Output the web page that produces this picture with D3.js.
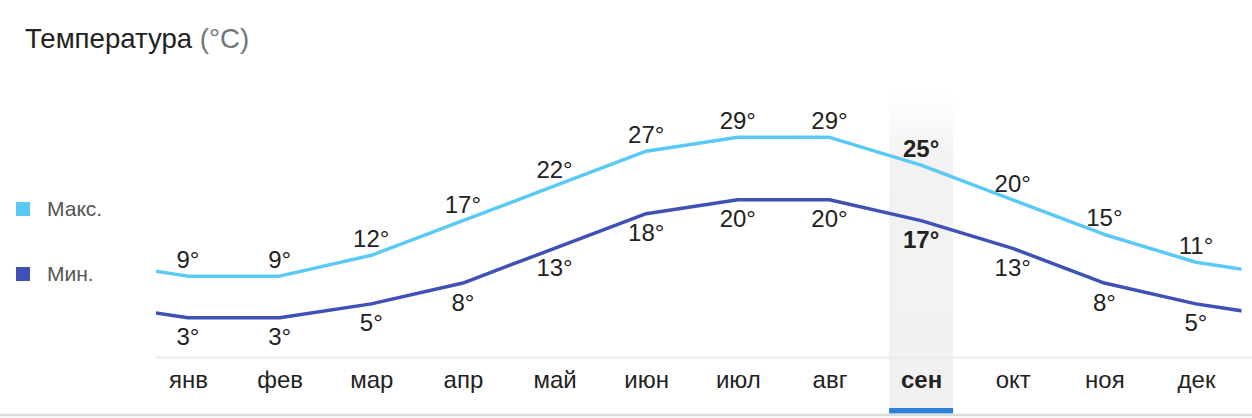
<!DOCTYPE html>
<html><head><meta charset="utf-8">
<script src="https://cdn.jsdelivr.net/npm/d3@7"></script>
<style>
html,body{margin:0;padding:0;background:#fff;}
svg{display:block;font-family:"Liberation Sans",Arial,sans-serif;}
</style></head>
<body>
<svg id="chart" width="1252" height="418"></svg>
<script>
const months = ["янв","фев","мар","апр","май","июн","июл","авг","сен","окт","ноя","дек"];
const maxTemps = [9,9,12,17,22,27,29,29,25,20,15,11];
const minTemps = [3,3,5,8,13,18,20,20,17,13,8,5];
const selectedMonth = "сен";
const seriesNames = ["Макс.","Мин."];
const title = "Температура";
const unit = "(°C)";

const W = 1252, H = 418;
const svg = d3.select("#chart");
const colors = {max:"#5bc9f6", min:"#3f51b5"};

const x = d3.scalePoint().domain(months).range([188, 1196]);
const xi = d3.scaleLinear().domain([0, 11]).range([188, 1196]);
const y = d3.scaleLinear().domain([0, 29]).range([338.6, 137.3]);
const plotLeft = 156, plotRight = 1241.5;

// defs
const defs = svg.append("defs");
defs.append("clipPath").attr("id","plotclip").append("rect")
  .attr("x", plotLeft).attr("y", 0).attr("width", plotRight - plotLeft).attr("height", H);
const g = defs.append("linearGradient").attr("id","hl").attr("x1",0).attr("x2",0).attr("y1",0).attr("y2",1);
g.append("stop").attr("offset","0%").attr("stop-color","#ffffff");
g.append("stop").attr("offset","22%").attr("stop-color","#f2f2f2");
g.append("stop").attr("offset","100%").attr("stop-color","#f1f1f1");

// title
const t = svg.append("text").attr("x", 25).attr("y", 48).attr("font-size", 27.6).attr("fill", "#222");
t.append("tspan").text(title + " ");
t.append("tspan").attr("fill", "#70757a").text(unit);

// highlight band
const selX = x(selectedMonth);
svg.append("rect").attr("x", selX - 32).attr("y", 92).attr("width", 64).attr("height", 316).attr("fill", "url(#hl)");
svg.append("rect").attr("x", selX - 32).attr("y", 408).attr("width", 64).attr("height", 5.5).attr("fill", "#2f80d9");

// baseline & bottom rule
svg.append("line").attr("x1", plotLeft).attr("x2", W).attr("y1", 357.5).attr("y2", 357.5)
  .attr("stroke", "#ebebeb").attr("stroke-width", 2);
svg.append("line").attr("x1", 0).attr("x2", W).attr("y1", 415).attr("y2", 415)
  .attr("stroke", "#dadada").attr("stroke-width", 2.5);

// lines (wrap: previous December before January, next January after December, clipped)
function wrapped(arr){
  const pts = arr.map((v,i)=>[i,v]);
  return [[-1, arr[arr.length-1]], ...pts, [arr.length, arr[0]]];
}
const line = d3.line().x(d=>xi(d[0])).y(d=>y(d[1]));
const lg = svg.append("g").attr("clip-path","url(#plotclip)");
lg.append("path").attr("d", line(wrapped(maxTemps))).attr("fill","none")
  .attr("stroke", colors.max).attr("stroke-width", 3.5).attr("stroke-linejoin","round");
lg.append("path").attr("d", line(wrapped(minTemps))).attr("fill","none")
  .attr("stroke", colors.min).attr("stroke-width", 3.5).attr("stroke-linejoin","round");

// value labels
svg.append("g").selectAll("text").data(maxTemps).join("text")
  .attr("x", (d,i)=>x(months[i])).attr("y", d=>y(d) - 8)
  .attr("text-anchor","middle").attr("font-size", 24).attr("fill", "#222")
  .attr("font-weight", (d,i)=>months[i]===selectedMonth ? "bold" : "normal")
  .text(d=>d + "°");
svg.append("g").selectAll("text").data(minTemps).join("text")
  .attr("x", (d,i)=>x(months[i])).attr("y", d=>y(d) + 27.5)
  .attr("text-anchor","middle").attr("font-size", 24).attr("fill", "#222")
  .attr("font-weight", (d,i)=>months[i]===selectedMonth ? "bold" : "normal")
  .text(d=>d + "°");

// month axis labels
const axis = d3.axisBottom(x).tickSize(0).tickPadding(0);
const ax = svg.append("g").attr("transform","translate(0,370)").call(axis);
ax.select(".domain").remove();
ax.selectAll("text").attr("font-size", 24).attr("fill", "#222")
  .attr("font-family", "'Liberation Sans',Arial,sans-serif")
  .attr("dy", null).attr("y", 18)
  .attr("font-weight", d=>d===selectedMonth ? "bold" : "normal");

// legend
const leg = svg.append("g").selectAll("g").data(seriesNames).join("g")
  .attr("transform", (d,i)=>`translate(16,${202 + i*65})`);
leg.append("rect").attr("width", 14).attr("height", 14)
  .attr("fill", (d,i)=> i===0 ? colors.max : colors.min);
leg.append("text").attr("x", 31).attr("y", 13.5).attr("font-size", 21).attr("fill", "#555").text(d=>d);
</script>
</body></html>
